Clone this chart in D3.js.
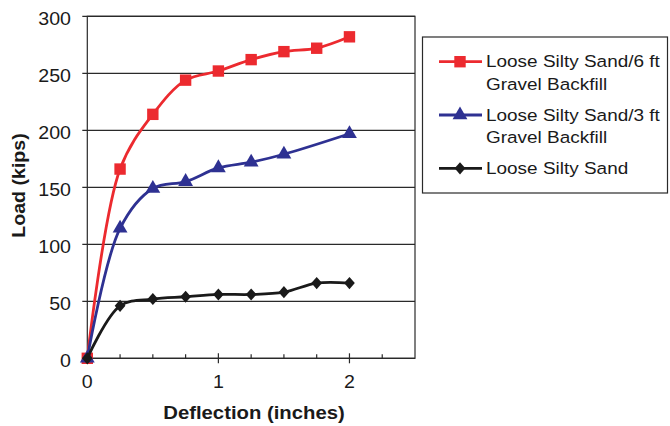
<!DOCTYPE html>
<html>
<head>
<meta charset="utf-8">
<script src="https://cdn.jsdelivr.net/npm/d3@7"></script>
<style>
  body { margin: 0; background: #fff; }
  text { font-family: "Liberation Sans", Arial, sans-serif; fill: #1a1a1a; }
</style>
</head>
<body>
<svg id="chart" width="670" height="426"></svg>
<script>
// deflection (inches)
const deflection = [0, 0.25, 0.5, 0.75, 1, 1.25, 1.5, 1.75, 2];
// load (kips)
const sixFtBackfill = [0, 166, 214, 244, 252, 262, 269, 272, 282];
const threeFtX = [0, 0.25, 0.5, 0.75, 1, 1.25, 1.5, 2];
const threeFtBackfill = [0, 114, 149, 155, 167, 172, 179, 197];
const looseSand = [0, 46, 52, 54, 56, 56, 58, 66, 66];

const seriesNames = ["Loose Silty Sand/6 ft|Gravel Backfill", "Loose Silty Sand/3 ft|Gravel Backfill", "Loose Silty Sand"];
const seriesColors = ["#ec2a2f", "#2e3192", "#1a1a1a"];
const yTicks = [0, 50, 100, 150, 200, 250, 300];
const xTicks = [0, 1, 2];

const svg = d3.select("#chart");
const margin = { left: 87.3, top: 16.3, right: 415, bottom: 358.3 };

const x = d3.scaleLinear().domain([0, 2.5]).range([margin.left, margin.right]);
const y = d3.scaleLinear().domain([0, 300]).range([margin.bottom, margin.top]);

// slightly wide diamond, like the excel marker
const diamond = {
  draw(ctx, size) {
    const w = Math.sqrt(size) * 0.6, h = Math.sqrt(size) * 0.68;
    ctx.moveTo(0, -h); ctx.lineTo(w, 0); ctx.lineTo(0, h); ctx.lineTo(-w, 0); ctx.closePath();
  }
};

// gridlines
svg.append("g")
  .selectAll("line")
  .data(yTicks)
  .join("line")
    .attr("x1", margin.left - 5)
    .attr("x2", margin.right)
    .attr("y1", d => y(d))
    .attr("y2", d => y(d))
    .attr("stroke", "#2a2a2a")
    .attr("stroke-width", 1.2);

// plot border
svg.append("rect")
  .attr("x", margin.left)
  .attr("y", margin.top)
  .attr("width", margin.right - margin.left)
  .attr("height", margin.bottom - margin.top)
  .attr("fill", "none")
  .attr("stroke", "#2a2a2a")
  .attr("stroke-width", 1.2);

// y labels
svg.append("g")
  .selectAll("text")
  .data(yTicks)
  .join("text")
    .attr("transform", d => `translate(71,${y(d)}) scale(1.06,1)`)
    .attr("dy", "0.46em")
    .attr("text-anchor", "end")
    .attr("font-size", 18.5)
    .text(d => d);

// x ticks
const minorTicks = d3.range(0.25, 2.5, 0.25).filter(d => d % 1 !== 0);
svg.append("g")
  .selectAll("line")
  .data(minorTicks)
  .join("line")
    .attr("x1", d => x(d)).attr("x2", d => x(d))
    .attr("y1", margin.bottom).attr("y2", margin.bottom - 4)
    .attr("stroke", "#2a2a2a").attr("stroke-width", 1.2);
svg.append("g")
  .selectAll("line")
  .data(xTicks)
  .join("line")
    .attr("x1", d => x(d)).attr("x2", d => x(d))
    .attr("y1", margin.bottom - 5).attr("y2", margin.bottom + 5)
    .attr("stroke", "#2a2a2a").attr("stroke-width", 1.2);
svg.append("g")
  .selectAll("text")
  .data(xTicks)
  .join("text")
    .attr("transform", d => `translate(${x(d)},388) scale(1.06,1)`)
    .attr("text-anchor", "middle")
    .attr("font-size", 18.5)
    .text(d => d);

// axis titles
svg.append("text")
  .attr("transform", "translate(254,419) scale(1.16,1)")
  .attr("text-anchor", "middle")
  .attr("font-size", 17.5)
  .attr("font-weight", "bold")
  .text("Deflection (inches)");

svg.append("text")
  .attr("transform", "translate(24.5,185.5) rotate(-90) scale(1.12,1)")
  .attr("text-anchor", "middle")
  .attr("font-size", 17.5)
  .attr("font-weight", "bold")
  .text("Load (kips)");

// series
const series = [
  { xs: deflection, ys: sixFtBackfill, symbol: d3.symbolSquare, size: 130 },
  { xs: threeFtX, ys: threeFtBackfill, symbol: d3.symbolTriangle, size: 95 },
  { xs: deflection, ys: looseSand, symbol: diamond, size: 80 }
];

const line = d3.line()
  .x(d => x(d[0]))
  .y(d => y(d[1]))
  .curve(d3.curveCatmullRom.alpha(0.5));

series.forEach((s, i) => {
  const pts = s.xs.map((v, j) => [v, s.ys[j]]);
  const g = svg.append("g");
  g.append("path")
    .attr("d", line(pts))
    .attr("fill", "none")
    .attr("stroke", seriesColors[i])
    .attr("stroke-width", 2.8);
  g.selectAll("path.mark")
    .data(pts)
    .join("path")
      .attr("class", "mark")
      .attr("transform", d => `translate(${x(d[0])},${y(d[1])})`)
      .attr("d", d3.symbol(s.symbol, s.size))
      .attr("fill", seriesColors[i]);
});

// legend
const legend = svg.append("g");
legend.append("rect")
  .attr("x", 422.5).attr("y", 37)
  .attr("width", 245).attr("height", 156)
  .attr("fill", "#fff")
  .attr("stroke", "#2a2a2a")
  .attr("stroke-width", 1.2);

const legendRows = [61.7, 115, 168.3];
series.forEach((s, i) => {
  const ly = legendRows[i];
  legend.append("line")
    .attr("x1", 439).attr("x2", 482)
    .attr("y1", ly).attr("y2", ly)
    .attr("stroke", seriesColors[i])
    .attr("stroke-width", 2.8);
  legend.append("path")
    .attr("transform", `translate(460,${ly})`)
    .attr("d", d3.symbol(s.symbol, s.size))
    .attr("fill", seriesColors[i]);
  const lines = seriesNames[i].split("|");
  const t = legend.append("text")
    .attr("transform", `translate(486,${ly + 5.5}) scale(1.115,1)`)
    .attr("font-size", 17);
  lines.forEach((l, k) => {
    t.append("tspan")
      .attr("x", 0)
      .attr("dy", k === 0 ? 0 : 23)
      .text(l);
  });
});
</script>
</body>
</html>
